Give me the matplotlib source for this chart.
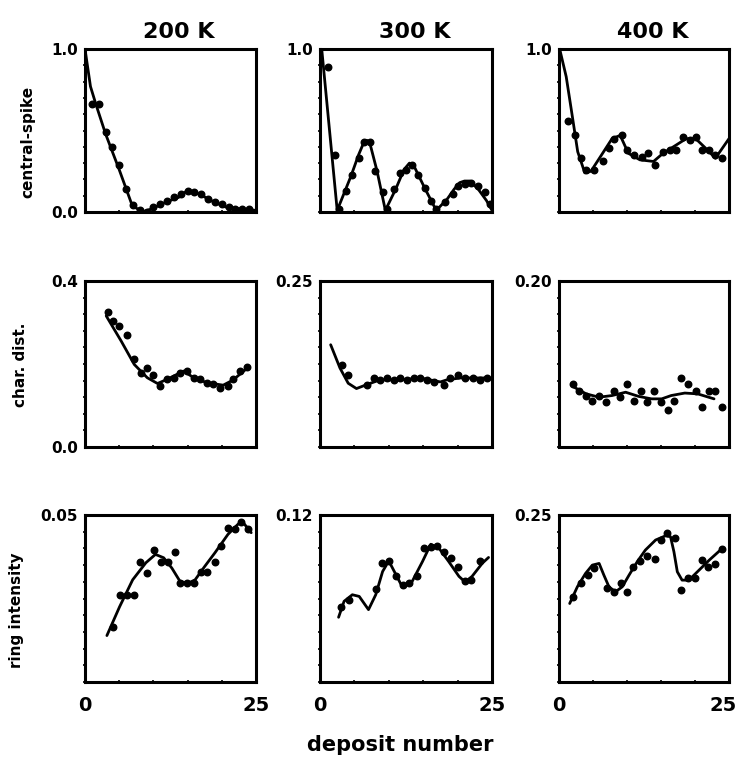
import matplotlib
matplotlib.use('Agg')
import matplotlib.pyplot as plt
import matplotlib.transforms as mtransforms
from matplotlib.ticker import MultipleLocator

plt.rcParams['font.family'] = ['DejaVu Sans']
plt.rcParams['font.weight'] = 'bold'

# ---------------- data ----------------
temperatures = ['200 K', '300 K', '400 K']
row_labels = ['central-spike', 'char. dist.', 'ring intensity']
x_tick_labels = ['0', '25']
y_max = [[1.0, 1.0, 1.0], [0.4, 0.25, 0.20], [0.05, 0.12, 0.25]]
y_top_text = [['1.0', '1.0', '1.0'], ['0.4', '0.25', '0.20'], ['0.05', '0.12', '0.25']]
y_bottom_text = [['0.0', None, None], ['0.0', None, None], [None, None, None]]

# central-spike, 200 K
cs200_x = [1, 2, 3, 4, 5, 6, 7, 8, 9, 10, 11, 12, 13, 14, 15, 16, 17, 18, 19, 20, 21, 22, 23, 24]
cs200_y = [0.66, 0.66, 0.49, 0.40, 0.29, 0.14, 0.04, 0.01, 0.0, 0.03, 0.05, 0.07, 0.09, 0.11,
           0.13, 0.12, 0.11, 0.08, 0.06, 0.05, 0.03, 0.02, 0.02, 0.02]
cs200_fit_x = [0, 0.8, 1.6, 3.0, 5.0, 6.9, 8.4, 9.8, 11.8, 13.7, 14.9, 16.7, 18.9, 20.6, 22.5, 25]
cs200_fit_y = [1.0, 0.77, 0.66, 0.48, 0.26, 0.04, 0.0, 0.02, 0.06, 0.09, 0.13, 0.11, 0.06, 0.03, 0.02, 0.01]

# central-spike, 300 K
cs300_x = [1.1, 2.2, 2.8, 3.85, 4.7, 5.7, 6.4, 7.2, 8.05, 9.1, 9.7, 10.8, 11.6, 12.5, 13.3, 14.2,
           15.2, 16.2, 16.9, 18.1, 19.4, 20.1, 21.1, 22.0, 23.0, 24.0, 24.7]
cs300_y = [0.89, 0.35, 0.02, 0.13, 0.23, 0.33, 0.43, 0.43, 0.25, 0.12, 0.02, 0.14, 0.24, 0.26, 0.29,
           0.23, 0.15, 0.07, 0.02, 0.06, 0.11, 0.16, 0.17, 0.18, 0.16, 0.12, 0.05]
cs300_fit_x = [0.25, 2.5, 4.5, 5.6, 6.4, 6.8, 7.2, 8.3, 9.5, 11.0, 12.2, 13.0, 13.8, 15.3, 16.9,
               18.5, 19.5, 20.3, 21.0, 21.8, 23.0, 24.2, 25]
cs300_fit_y = [1.0, 0.01, 0.22, 0.35, 0.43, 0.44, 0.43, 0.25, 0.01, 0.14, 0.26, 0.30, 0.27, 0.14,
               0.01, 0.08, 0.14, 0.18, 0.19, 0.19, 0.14, 0.07, 0.01]

# central-spike, 400 K
cs400_x = [1.3, 2.4, 3.2, 4.0, 5.2, 6.4, 7.3, 8.1, 9.3, 10.0, 11.0, 12.2, 13.1, 14.1, 15.3, 16.3,
           17.2, 18.2, 19.2, 20.1, 21.1, 22.1, 23.0, 24.0]
cs400_y = [0.56, 0.47, 0.33, 0.26, 0.26, 0.31, 0.39, 0.45, 0.47, 0.38, 0.35, 0.34, 0.36, 0.29,
           0.37, 0.38, 0.38, 0.46, 0.44, 0.46, 0.38, 0.38, 0.35, 0.33]
cs400_fit_x = [0.1, 1.06, 1.8, 2.75, 3.8, 4.7, 6.1, 7.8, 9.0, 10.2, 11.9, 13.9, 15.3, 17.2, 18.7,
               20.1, 21.6, 23.0, 25]
cs400_fit_y = [1.0, 0.83, 0.63, 0.37, 0.24, 0.25, 0.34, 0.45, 0.47, 0.36, 0.32, 0.31, 0.36, 0.41,
               0.45, 0.45, 0.39, 0.33, 0.45]

# char. dist., 200 K
cd200_x = [3.3, 4.1, 5.0, 6.15, 7.2, 8.2, 9.1, 10.0, 11.0, 12.0, 13.0, 13.9, 14.9, 15.9, 16.8,
           17.8, 18.75, 19.8, 20.9, 21.6, 22.6, 23.7]
cd200_y = [0.326, 0.304, 0.292, 0.271, 0.211, 0.179, 0.191, 0.173, 0.147, 0.163, 0.167, 0.179,
           0.183, 0.167, 0.163, 0.155, 0.151, 0.143, 0.147, 0.163, 0.183, 0.193]
cd200_fit_x = [3.1, 5.3, 7.2, 9.1, 10.6, 12.0, 14.4, 15.9, 17.8, 20.2, 21.6, 23.8]
cd200_fit_y = [0.316, 0.255, 0.199, 0.167, 0.153, 0.163, 0.183, 0.167, 0.155, 0.149, 0.161, 0.191]

# char. dist., 300 K
cd300_x = [3.2, 4.1, 6.8, 7.8, 8.7, 9.7, 10.7, 11.65, 12.6, 13.6, 14.6, 15.5, 16.5, 17.96, 18.9,
           20.1, 21.1, 22.3, 23.3, 24.3]
cd300_y = [0.124, 0.109, 0.093, 0.104, 0.101, 0.104, 0.101, 0.104, 0.101, 0.104, 0.104, 0.101,
           0.098, 0.093, 0.104, 0.109, 0.104, 0.104, 0.101, 0.104]
cd300_fit_x = [1.55, 2.9, 4.1, 5.3, 6.8, 8.7, 11.65, 14.6, 17.5, 18.4, 20.4, 24.3]
cd300_fit_y = [0.154, 0.119, 0.096, 0.088, 0.094, 0.101, 0.101, 0.104, 0.098, 0.101, 0.104, 0.104]

# char. dist., 400 K
cd400_x = [2.1, 3.0, 3.9, 4.8, 5.9, 6.9, 8.1, 8.9, 10.0, 11.0, 12.0, 12.9, 14.0, 15.0, 16.0, 16.9,
           18.0, 19.0, 20.1, 21.1, 22.1, 23.0, 24.0]
cd400_y = [0.0757, 0.068, 0.062, 0.056, 0.062, 0.054, 0.068, 0.060, 0.0757, 0.056, 0.068, 0.054,
           0.068, 0.054, 0.044, 0.055, 0.083, 0.0757, 0.068, 0.048, 0.068, 0.068, 0.048]
cd400_fit_x = [2.1, 4.0, 5.9, 7.8, 9.8, 11.7, 13.6, 15.1, 16.5, 18.5, 20.4, 22.8]
cd400_fit_y = [0.0726, 0.064, 0.060, 0.062, 0.066, 0.061, 0.058, 0.058, 0.062, 0.065, 0.064, 0.058]

# ring intensity, 200 K
ri200_x = [4.1, 5.05, 6.1, 7.1, 8.0, 9.0, 10.1, 11.1, 12.1, 13.1, 13.9, 14.9, 15.9, 17.0, 17.9,
           19.0, 19.95, 20.9, 21.9, 22.8, 23.8]
ri200_y = [0.0165, 0.026, 0.026, 0.026, 0.036, 0.0326, 0.0395, 0.036, 0.036, 0.039, 0.0296, 0.0296,
           0.0296, 0.033, 0.033, 0.036, 0.0407, 0.046, 0.0458, 0.0478, 0.0458]
ri200_fit_x = [3.2, 5.05, 6.97, 8.9, 10.3, 11.5, 12.7, 13.9, 15.1, 16.1, 17.5, 19.0, 20.9, 22.4,
               23.1, 24.3]
ri200_fit_y = [0.0139, 0.0225, 0.0306, 0.0357, 0.0382, 0.0372, 0.0341, 0.0301, 0.0296, 0.0306,
               0.0346, 0.0387, 0.0442, 0.0473, 0.0478, 0.0447]

# ring intensity, 300 K
ri300_x = [3.0, 4.25, 8.1, 9.0, 10.0, 11.0, 12.0, 13.0, 14.15, 15.1, 16.1, 17.05, 18.0, 19.1,
           20.1, 21.1, 22.0, 23.2]
ri300_y = [0.0537, 0.0592, 0.067, 0.0854, 0.0866, 0.0759, 0.0694, 0.0711, 0.0759, 0.0966, 0.0973,
           0.098, 0.0937, 0.089, 0.0823, 0.0728, 0.0735, 0.087]
ri300_fit_x = [2.7, 3.5, 4.7, 5.7, 7.05, 8.1, 9.1, 10.0, 10.8, 12.0, 13.4, 14.9, 16.1, 17.3, 18.7,
               20.2, 21.1, 22.1, 23.6, 24.5]
ri300_fit_y = [0.0465, 0.058, 0.0627, 0.0615, 0.052, 0.0627, 0.0794, 0.087, 0.0794, 0.068, 0.0723,
               0.0866, 0.099, 0.0961, 0.0866, 0.0759, 0.0718, 0.0759, 0.0854, 0.0895]

# ring intensity, 400 K
ri400_x = [2.06, 3.2, 4.2, 5.1, 7.1, 8.1, 9.1, 10.0, 10.9, 11.9, 13.0, 14.1, 15.0, 15.9, 17.1,
           18.0, 18.9, 20.0, 21.0, 21.96, 23.0, 24.0]
ri400_y = [0.1275, 0.1475, 0.16, 0.17, 0.14, 0.134, 0.1475, 0.134, 0.1725, 0.181, 0.189, 0.184,
           0.2125, 0.2225, 0.215, 0.1375, 0.156, 0.156, 0.1825, 0.1725, 0.176, 0.199]
ri400_fit_x = [1.57, 2.7, 3.9, 4.9, 5.9, 6.6, 7.35, 8.3, 9.3, 10.3, 11.5, 12.7, 14.2, 15.7, 16.4,
               16.9, 17.4, 18.1, 19.1, 20.6, 22.1, 24.0]
ri400_fit_y = [0.1175, 0.1425, 0.1625, 0.175, 0.1775, 0.16, 0.1425, 0.135, 0.1425, 0.16, 0.18,
               0.1975, 0.2125, 0.219, 0.2175, 0.195, 0.165, 0.1525, 0.1525, 0.1675, 0.1825, 0.2]

panels = [
    [(cs200_x, cs200_y, cs200_fit_x, cs200_fit_y), (cs300_x, cs300_y, cs300_fit_x, cs300_fit_y),
     (cs400_x, cs400_y, cs400_fit_x, cs400_fit_y)],
    [(cd200_x, cd200_y, cd200_fit_x, cd200_fit_y), (cd300_x, cd300_y, cd300_fit_x, cd300_fit_y),
     (cd400_x, cd400_y, cd400_fit_x, cd400_fit_y)],
    [(ri200_x, ri200_y, ri200_fit_x, ri200_fit_y), (ri300_x, ri300_y, ri300_fit_x, ri300_fit_y),
     (ri400_x, ri400_y, ri400_fit_x, ri400_fit_y)],
]

# ---------------- layout (pixels) ----------------
W, H = 739, 763
col_left = [85, 320, 559]
col_right = [256, 492, 729]
row_top = [49, 281, 515]
row_bottom = [212, 447, 682]
row_label_pos = [(28, 142), (21, 365), (17, 610)]

fig = plt.figure(figsize=(W / 100, H / 100), dpi=100)

for r in range(3):
    for c in range(3):
        L, R, T, B = col_left[c], col_right[c], row_top[r], row_bottom[r]
        ax = fig.add_axes([L / W, 1 - B / H, (R - L) / W, (B - T) / H])
        xs, ys, fx, fy = panels[r][c]
        ax.plot(fx, fy, color='black', lw=2.0, solid_capstyle='round', solid_joinstyle='round',
                clip_on=True)
        ax.plot(xs, ys, 'o', color='black', ms=4.7, clip_on=True)
        ax.set_xlim(0, 25)
        ax.set_ylim(0, y_max[r][c])
        for s in ax.spines.values():
            s.set_linewidth(2.2)
        yt, yl = [y_max[r][c]], [y_top_text[r][c]]
        if y_bottom_text[r][c] is not None:
            yt = [0.0] + yt
            yl = [y_bottom_text[r][c]] + yl
        ax.set_yticks(yt)
        ax.set_yticklabels(yl, fontsize=11, fontweight='bold')
        ax.yaxis.set_minor_locator(MultipleLocator(y_max[r][c] / 10))
        ax.xaxis.set_minor_locator(MultipleLocator(5))
        ax.tick_params(axis='y', which='major', length=0, pad=5)
        ax.tick_params(which='minor', direction='inout', length=3, width=1.2)
        if r == 2:
            ax.set_xticks([0, 25])
            labels = ax.set_xticklabels(x_tick_labels, fontsize=14, fontweight='bold')
            ax.tick_params(axis='x', which='major', length=0, pad=10)
            if c == 2:
                off = mtransforms.ScaledTranslation(-6 / 100, 0, fig.dpi_scale_trans)
                labels[1].set_transform(labels[1].get_transform() + off)
        else:
            ax.set_xticks([])
        if r == 0:
            ax.set_title(temperatures[c], fontsize=16, fontweight='bold', pad=8, x=0.55)

for r in range(3):
    px, py = row_label_pos[r]
    fig.text(px / W, 1 - py / H, row_labels[r], fontsize=11, fontweight='bold',
             rotation=90, ha='center', va='center')

fig.text(400 / W, 1 - 745 / H, 'deposit number', fontsize=15, fontweight='bold',
         ha='center', va='center')

fig.savefig('out.png', dpi=100)
